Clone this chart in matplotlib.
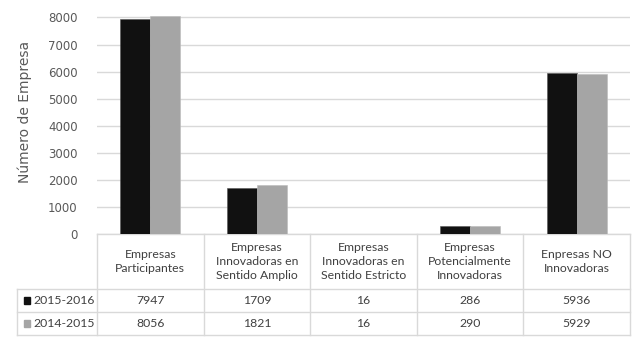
import matplotlib
matplotlib.use("Agg")
import matplotlib.pyplot as plt
from matplotlib.patches import Rectangle

categories = [
    "Empresas\nParticipantes",
    "Empresas\nInnovadoras en\nSentido Amplio",
    "Empresas\nInnovadoras en\nSentido Estricto",
    "Empresas\nPotencialmente\nInnovadoras",
    "Enpresas NO\nInnovadoras",
]
series_names = ["2015-2016", "2014-2015"]
values_2015_2016 = [7947, 1709, 16, 286, 5936]
values_2014_2015 = [8056, 1821, 16, 290, 5929]
y_ticks = [0, 1000, 2000, 3000, 4000, 5000, 6000, 7000, 8000]

colors = ["#111111", "#a5a5a5"]
grid_col = "#d9d9d9"
text_col = "#404040"
tick_col = "#595959"
table_font = ["Lato", "DejaVu Sans"]

fig = plt.figure(figsize=(6.41, 3.45), dpi=100)
W, H = 641, 345
y_max = 8200
ax_left, ax_right, ax_bottom = 97, 630, 234
px_per_1000 = (234 - 17.5) / 8.0
ax_top = ax_bottom - px_per_1000 * y_max / 1000
ax = fig.add_axes([ax_left / W, 1 - ax_bottom / H,
                   (ax_right - ax_left) / W, (ax_bottom - ax_top) / H])

n = len(categories)
xs = list(range(n))
bw = 0.28
ax.bar([x - bw / 2 for x in xs], values_2015_2016, width=bw, color=colors[0],
       edgecolor="#555555", linewidth=0.4, zorder=3)
ax.bar([x + bw / 2 for x in xs], values_2014_2015, width=bw, color=colors[1],
       edgecolor="#bbbbbb", linewidth=0.4, zorder=3)

ax.set_xlim(-0.5, n - 0.5)
ax.set_ylim(0, y_max)
ax.set_yticks(y_ticks)
ax.set_yticklabels([str(v) for v in y_ticks], fontsize=8.5, color=tick_col)
ax.tick_params(axis="y", length=0, pad=14)
ax.set_xticks([])
ax.grid(axis="y", color=grid_col, linewidth=1.0, zorder=0)
for s in ax.spines.values():
    s.set_visible(False)
plot_h = ax_bottom - ax_top
plot_w = ax_right - ax_left
ax.set_ylabel("Número de Empresa", fontsize=10, color=tick_col)
ax.yaxis.set_label_coords(-(ax_left - 32) / plot_w, (ax_bottom - 112) / plot_h)

# data table under the plot, x in data units, y in axes fraction
tr = ax.get_xaxis_transform()
y_head = -(289 - ax_bottom) / plot_h
y_row1 = -(312 - ax_bottom) / plot_h
y_row2 = -(335 - ax_bottom) / plot_h
px_per_unit = plot_w / n
x_label_left = -0.5 - (ax_left - 17) / px_per_unit
x_right = n - 0.5

def hline(x0, x1, y):
    ax.plot([x0, x1], [y, y], color=grid_col, lw=1.0, transform=tr, clip_on=False, zorder=1)

def vline(x, y0, y1):
    ax.plot([x, x], [y0, y1], color=grid_col, lw=1.0, transform=tr, clip_on=False, zorder=1)

hline(-0.5, x_right, 0)
hline(x_label_left, x_right, y_head)
hline(x_label_left, x_right, y_row1)
hline(x_label_left, x_right, y_row2)
for i in range(n + 1):
    vline(i - 0.5, 0, y_row2)
vline(x_label_left, y_head, y_row2)

fs = 8.8
for i, cat in enumerate(categories):
    ax.text(i, y_head / 2, cat, transform=tr, ha="center", va="center",
            fontsize=fs, color=text_col, family=table_font, linespacing=1.3,
            clip_on=False)

rows = [values_2015_2016, values_2014_2015]
row_ys = [(y_head + y_row1) / 2, (y_row1 + y_row2) / 2]
for r, (vals, yc) in enumerate(zip(rows, row_ys)):
    for i, v in enumerate(vals):
        ax.text(i, yc, str(v), transform=tr, ha="center", va="center",
                fontsize=fs, color=text_col, family=table_font, clip_on=False)
    # legend key square
    sq_w = 6 / px_per_unit
    sq_h = 7 / plot_h
    ax.add_patch(Rectangle((x_label_left + 7 / px_per_unit, yc - sq_h / 2), sq_w, sq_h,
                           transform=tr, color=colors[r], clip_on=False))
    ax.text(x_label_left + 16 / px_per_unit, yc, series_names[r], transform=tr,
            ha="left", va="center", fontsize=fs, color=text_col,
            family=table_font, clip_on=False)

fig.savefig("out.png", dpi=100)
